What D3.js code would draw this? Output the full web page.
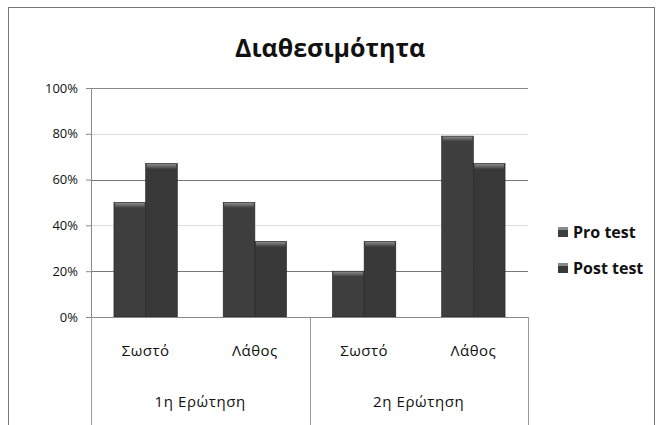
<!DOCTYPE html>
<html>
<head>
<meta charset="utf-8">
<script src="https://d3js.org/d3.v7.min.js"></script>
<style>
  body { margin: 0; background: #fff; }
  text { font-family: "Open Sans", "DejaVu Sans", sans-serif; fill: #111; }
</style>
</head>
<body>
<div id="chart"></div>
<script>
// data
var groups = ["1η Ερώτηση", "2η Ερώτηση"];
var answers = ["Σωστό", "Λάθος"];
var series = ["Pro test", "Post test"];
var proTest = [50, 50, 20, 79];
var postTest = [67, 33, 33, 67];
var yTicks = [0, 20, 40, 60, 80, 100];

var W = 659, H = 425;
var margin = { top: 88, left: 91, right: 131, bottom: 108 };
var width = W - margin.left - margin.right,
    height = H - margin.top - margin.bottom;

var svg = d3.select("#chart").append("svg")
  .attr("width", W).attr("height", H);

// outer frame
svg.append("rect")
  .attr("x", 8.5).attr("y", 7.5)
  .attr("width", 646).attr("height", 430)
  .attr("fill", "none").attr("stroke", "#777").attr("stroke-width", 1);

svg.append("text")
  .attr("x", 330).attr("y", 57)
  .attr("text-anchor", "middle")
  .style("font-size", "25px").style("font-weight", "bold")
  .text("Διαθεσιμότητα");

var g = svg.append("g")
  .attr("transform", "translate(" + margin.left + "," + margin.top + ")");

var cats = [];
groups.forEach(function (gr) {
  answers.forEach(function (a) { cats.push(gr + "|" + a); });
});
var rows = cats.map(function (c, i) {
  return { key: c, label: c.split("|")[1], values: [proTest[i], postTest[i]] };
});

var x0 = d3.scaleBand().domain(cats).range([0, width]).paddingInner(0).paddingOuter(0);
var x1 = d3.scaleBand().domain(series).range([x0.bandwidth() * 0.21, x0.bandwidth() * 0.79]);
var y = d3.scaleLinear().domain([0, 100]).range([height, 0]);

// gridlines
g.selectAll(".grid").data(yTicks.filter(function (d) { return d > 0; }))
  .enter().append("line")
  .attr("x1", 0).attr("x2", width)
  .attr("y1", function (d) { return Math.round(y(d)) + 0.5; })
  .attr("y2", function (d) { return Math.round(y(d)) + 0.5; })
  .attr("stroke", function (d) { return d === 100 ? "#888" : (d === 60 || d === 20) ? "#777" : "#dcdcdc"; })
  .attr("stroke-width", 1);

// y axis
var yAxis = g.append("g")
  .call(d3.axisLeft(y).tickValues(yTicks).tickSize(5).tickFormat(function (d) { return d + "%"; }));
yAxis.select(".domain").attr("stroke", "#888");
yAxis.selectAll(".tick line").attr("stroke", "#888");
yAxis.selectAll("text").style("font-size", "13px").attr("dx", "-5px").style("fill", "#111");

// bars
var grad = svg.append("defs").append("linearGradient")
  .attr("id", "top").attr("x1", 0).attr("x2", 0).attr("y1", 0).attr("y2", 1);
grad.append("stop").attr("offset", "0").attr("stop-color", "#8a8a8a");
grad.append("stop").attr("offset", "1").attr("stop-color", "#3c3c3c");

var colors = { "Pro test": "#3e3e3e", "Post test": "#383838" };
var cat = g.selectAll(".cat").data(rows).enter().append("g")
  .attr("transform", function (d) { return "translate(" + x0(d.key) + ",0)"; });
cat.selectAll("rect.bar")
  .data(function (d) { return d.values.map(function (v, i) { return { s: series[i], v: v }; }); })
  .enter().append("rect").attr("class", "bar")
  .attr("x", function (d) { return x1(d.s); })
  .attr("y", function (d) { return y(d.v); })
  .attr("width", x1.bandwidth())
  .attr("height", function (d) { return height - y(d.v); })
  .attr("fill", function (d) { return colors[d.s]; })
  .attr("stroke", "#222").attr("stroke-width", 0.6);
cat.selectAll("rect.cap")
  .data(function (d) { return d.values.map(function (v, i) { return { s: series[i], v: v }; }); })
  .enter().append("rect").attr("class", "cap")
  .attr("x", function (d) { return x1(d.s) + 1; })
  .attr("y", function (d) { return y(d.v) + 0.5; })
  .attr("width", x1.bandwidth() - 2)
  .attr("height", 5)
  .attr("fill", "url(#top)");

// baseline
g.append("line").attr("x1", 0).attr("x2", width)
  .attr("y1", height + 0.5).attr("y2", height + 0.5).attr("stroke", "#888");

// category labels
cat.append("text")
  .attr("x", x0.bandwidth() / 2).attr("y", height + 39)
  .attr("text-anchor", "middle").style("font-size", "15px")
  .style("letter-spacing", "0.5px")
  .text(function (d) { return d.label; });

// group separators and labels
var gx = d3.scaleBand().domain(groups).range([0, width]);
[0, width / 2, width].forEach(function (px) {
  g.append("line").attr("x1", Math.round(px) + 0.5).attr("x2", Math.round(px) + 0.5)
    .attr("y1", height).attr("y2", H - margin.top)
    .attr("stroke", "#999");
});
g.selectAll(".glabel").data(groups).enter().append("text")
  .attr("x", function (d) { return gx(d) + gx.bandwidth() / 2; })
  .attr("y", height + 90)
  .attr("text-anchor", "middle").style("font-size", "15px")
  .style("letter-spacing", "0.6px")
  .text(function (d) { return d; });

// legend
var lg = svg.append("g").attr("transform", "translate(558,227)");
var li = lg.selectAll("g").data(series).enter().append("g")
  .attr("transform", function (d, i) { return "translate(0," + i * 36 + ")"; });
li.append("rect").attr("x", 0).attr("y", 0).attr("width", 10).attr("height", 10)
  .attr("fill", function (d) { return colors[d]; });
li.append("rect").attr("x", 0).attr("y", 0).attr("width", 10).attr("height", 3)
  .attr("fill", "#8a8a8a");
li.append("text").attr("x", 15).attr("y", 11)
  .style("font-size", "16px").style("font-weight", "bold")
  .text(function (d) { return d; });
</script>
</body>
</html>
